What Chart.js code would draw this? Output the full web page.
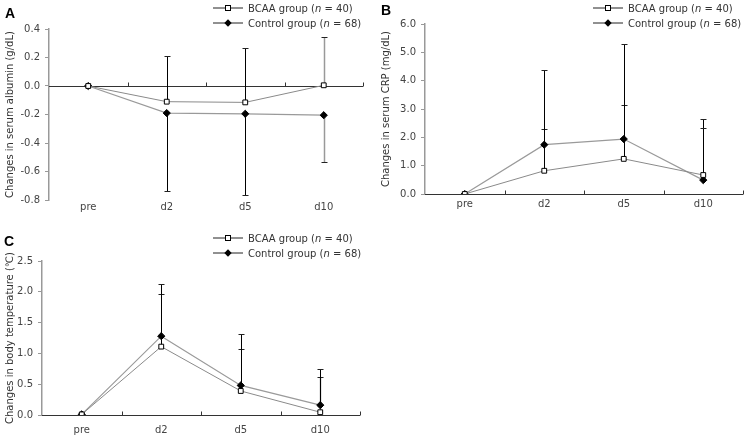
<!DOCTYPE html>
<html><head><meta charset="utf-8">
<script src="https://cdn.jsdelivr.net/npm/chart.js@4"></script>
<style>
body{margin:0;background:#fff;width:752px;height:439px;position:relative;overflow:hidden;font-family:"DejaVu Sans",sans-serif;}
canvas{position:absolute;}
.lg{position:absolute;font-size:10px;color:#333;white-space:nowrap;line-height:14px;height:14px;}
.lg svg{vertical-align:middle;margin-right:5px;position:relative;top:-1px}
.letter{position:absolute;font:bold 14px "Liberation Sans",sans-serif;color:#000;line-height:14px}
</style></head><body>
<canvas id="cA" width="376" height="220" style="left:0;top:0"></canvas>
<canvas id="cB" width="376" height="220" style="left:376px;top:0"></canvas>
<canvas id="cC" width="376" height="219" style="left:0;top:220px"></canvas>
<div class="letter" style="left:5px;top:6px">A</div>
<div class="letter" style="left:381px;top:3px">B</div>
<div class="letter" style="left:4px;top:234px">C</div>
<div id="legends"></div>
<script>
// ---- data ----
const categories = ['pre', 'd2', 'd5', 'd10'];
const bcaaLabel = 'BCAA group';
const controlLabel = 'Control group';
const bcaaN = 40;
const controlN = 68;

const albuminBcaa = [0, -0.11, -0.115, 0.005];
const albuminBcaaSd = [0, 0.32, 0.38, 0.34];
const albuminControl = [0, -0.19, -0.195, -0.205];
const albuminControlSd = [0, 0.55, 0.57, 0.33];

const crpBcaa = [0, 0.82, 1.24, 0.67];
const crpBcaaSd = [0, 1.47, 1.90, 1.99];
const crpControl = [0, 1.74, 1.94, 0.49];
const crpControlSd = [0, 2.62, 3.34, 1.83];

const tempBcaa = [0.01, 1.11, 0.39, 0.045];
const tempBcaaSd = [0, 0.86, 0.68, 0.575];
const tempControl = [0.01, 1.28, 0.48, 0.16];
const tempControlSd = [0, 0.84, 0.84, 0.58];

const albuminTicks = {min: -0.8, max: 0.4, step: 0.2};
const crpTicks = {min: 0, max: 6, step: 1};
const tempTicks = {min: 0, max: 2.5, step: 0.5};

// ---- plugins ----
const FONT = '"DejaVu Sans", sans-serif';
const errorBars = {
  id: 'errorBars',
  beforeDatasetsDraw(chart) {
    const ctx = chart.ctx, y = chart.scales.y;
    chart.data.datasets.forEach((ds, di) => {
      const meta = chart.getDatasetMeta(di);
      ds.sd.forEach((sd, i) => {
        if (!sd) return;
        const px = meta.data[i].x;
        const y0 = y.getPixelForValue(ds.data[i]);
        const y1 = y.getPixelForValue(ds.data[i] + ds.dir * sd);
        ctx.save();
        ctx.strokeStyle = ds.errColors[i];
        ctx.lineWidth = ds.errWidths[i];
        ctx.beginPath();
        ctx.moveTo(Math.round(px) + 0.5, y0);
        ctx.lineTo(Math.round(px) + 0.5, Math.round(y1) + 0.5);
        ctx.stroke();
        ctx.strokeStyle = '#222';
        ctx.lineWidth = 1;
        ctx.beginPath();
        ctx.moveTo(Math.round(px) - 2.5, Math.round(y1) + 0.5);
        ctx.lineTo(Math.round(px) + 3.5, Math.round(y1) + 0.5);
        ctx.stroke();
        ctx.restore();
      });
    });
  }
};
const zeroAxis = {
  id: 'zeroAxis',
  beforeDatasetsDraw(chart) {
    const ctx = chart.ctx, x = chart.scales.x, y = chart.scales.y, a = chart.chartArea;
    const yz = Math.round(y.getPixelForValue(0)) + 0.5;
    ctx.save();
    ctx.strokeStyle = '#333';
    ctx.lineWidth = 1;
    ctx.beginPath();
    ctx.moveTo(a.left, yz);
    ctx.lineTo(a.right, yz);
    const n = chart.data.labels.length;
    const w = x.getPixelForValue(1) - x.getPixelForValue(0);
    for (let i = 0; i < n; i++) {
      const bx = Math.round(x.getPixelForValue(i) + w / 2) + 0.5;
      ctx.moveTo(bx, yz);
      ctx.lineTo(bx, yz - 4);
    }
    ctx.stroke();
    ctx.restore();
  }
};

function fmt(v) { return (Math.abs(v) < 1e-9 ? 0 : v).toFixed(1); }

function makeChart(id, cfg) {
  const ds = (label, data, sd, dir, isBcaa, errColors) => ({
    label, data, sd, dir,
    errColors, errWidths: errColors.map(c => c === '#000' ? 1 : 1.5),
    borderColor: isBcaa ? '#8a8a8a' : '#9a9a9a',
    borderWidth: isBcaa ? 1 : 1.2,
    pointStyle: isBcaa ? 'rect' : 'rectRot',
    pointRadius: isBcaa ? 3.4 : 3.6,
    pointBackgroundColor: isBcaa ? '#fff' : '#000',
    pointBorderColor: '#000',
    pointBorderWidth: 1,
    tension: 0,
    fill: false
  });
  return new Chart(document.getElementById(id), {
    type: 'line',
    data: {
      labels: categories,
      datasets: [
        ds(bcaaLabel, cfg.bcaa, cfg.bcaaSd, cfg.bcaaDir, true, cfg.bcaaErr),
        ds(controlLabel, cfg.control, cfg.controlSd, cfg.controlDir, false, cfg.controlErr)
      ]
    },
    options: {
      responsive: false,
      animation: false,
      layout: {padding: {left: 0, top: cfg.top, right: cfg.right, bottom: 0}},
      plugins: {legend: {display: false}, tooltip: {enabled: false}},
      scales: {
        x: {
          offset: true,
          grid: {display: false, drawTicks: false},
          border: {display: false},
          ticks: {color: '#444', font: {family: FONT, size: 10}, padding: cfg.xPad, maxRotation: 0},
          afterFit(s) { s.height = cfg.xH; }
        },
        y: {
          min: cfg.ticks.min, max: cfg.ticks.max,
          ticks: {stepSize: cfg.ticks.step, callback: fmt, color: '#444', font: {family: FONT, size: 10}, padding: 5},
          grid: {drawOnChartArea: false, drawTicks: true, tickLength: 4, color: '#999'},
          border: {display: true, color: '#999', width: 1.5},
          title: {display: true, text: cfg.title, color: '#333', font: {family: FONT, size: 10}, padding: {top: 4, bottom: 0}},
          afterFit(s) { s.width = cfg.yW; }
        }
      }
    },
    plugins: [zeroAxis, errorBars]
  });
}

makeChart('cA', {
  bcaa: albuminBcaa, bcaaSd: albuminBcaaSd, bcaaDir: 1,
  control: albuminControl, controlSd: albuminControlSd, controlDir: -1,
  bcaaErr: ['#000', '#000', '#000', '#999'], controlErr: ['#000', '#000', '#000', '#999'],
  ticks: albuminTicks, title: 'Changes in serum albumin (g/dL)',
  top: 29, right: 13, yW: 49, xH: 20, xPad: 1
});
makeChart('cB', {
  bcaa: crpBcaa, bcaaSd: crpBcaaSd, bcaaDir: 1,
  control: crpControl, controlSd: crpControlSd, controlDir: 1,
  bcaaErr: ['#000', '#000', '#000', '#000'], controlErr: ['#000', '#000', '#000', '#000'],
  ticks: crpTicks, title: 'Changes in serum CRP (mg/dL)',
  top: 24, right: 9, yW: 49, xH: 26, xPad: 4
});
makeChart('cC', {
  bcaa: tempBcaa, bcaaSd: tempBcaaSd, bcaaDir: 1,
  control: tempControl, controlSd: tempControlSd, controlDir: 1,
  bcaaErr: ['#000', '#000', '#000', '#999'], controlErr: ['#000', '#000', '#000', '#000'],
  ticks: tempTicks, title: 'Changes in body temperature (℃)',
  top: 41, right: 16, yW: 42, xH: 24, xPad: 9
});

// ---- legends ----
const bcaaIcon = '<svg width="30" height="10"><line x1="0" y1="5" x2="30" y2="5" stroke="#222" stroke-width="1"/><rect x="12.5" y="2.5" width="5" height="5" fill="#fff" stroke="#000" stroke-width="1"/></svg>';
const ctrlIcon = '<svg width="30" height="10"><line x1="0" y1="5" x2="30" y2="5" stroke="#222" stroke-width="1"/><polygon points="15,1.3 18.7,5 15,8.7 11.3,5" fill="#000"/></svg>';
function legend(left, top) {
  const h = document.getElementById('legends');
  h.insertAdjacentHTML('beforeend',
    `<div class="lg" style="left:${left}px;top:${top}px">${bcaaIcon}${bcaaLabel} (<i>n</i> = ${bcaaN})</div>` +
    `<div class="lg" style="left:${left}px;top:${top + 15}px">${ctrlIcon}${controlLabel} (<i>n</i> = ${controlN})</div>`);
}
legend(213, 2);
legend(593, 2);
legend(213, 232);
</script>
</body></html>
